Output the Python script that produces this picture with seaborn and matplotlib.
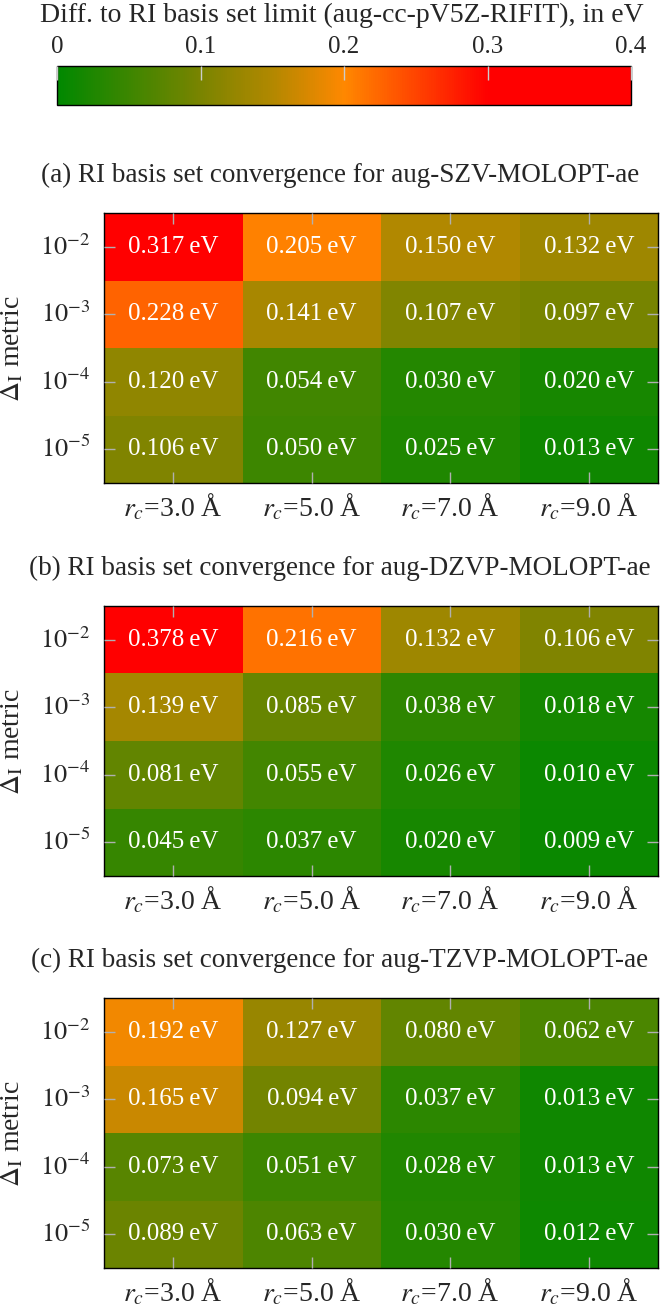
import numpy as np
import pandas as pd
import matplotlib
matplotlib.use("Agg")
import matplotlib.pyplot as plt
import seaborn as sns
from matplotlib.colors import LinearSegmentedColormap, Normalize
from matplotlib.cm import ScalarMappable

sns.set_theme(style="white")
plt.rcParams['font.family'] = ['Liberation Serif', 'DejaVu Serif']
plt.rcParams['mathtext.fontset'] = 'stix'

# ---- data ----
cutoffs = ["$r_c$=3.0 Å", "$r_c$=5.0 Å", "$r_c$=7.0 Å", "$r_c$=9.0 Å"]
metrics = ["$10^{-2}$", "$10^{-3}$", "$10^{-4}$", "$10^{-5}$"]

szv = [[0.317, 0.205, 0.150, 0.132],
       [0.228, 0.141, 0.107, 0.097],
       [0.120, 0.054, 0.030, 0.020],
       [0.106, 0.050, 0.025, 0.013]]
dzvp = [[0.378, 0.216, 0.132, 0.106],
        [0.139, 0.085, 0.038, 0.018],
        [0.081, 0.055, 0.026, 0.010],
        [0.045, 0.037, 0.020, 0.009]]
tzvp = [[0.192, 0.127, 0.080, 0.062],
        [0.165, 0.094, 0.037, 0.013],
        [0.073, 0.051, 0.028, 0.013],
        [0.089, 0.063, 0.030, 0.012]]

titles = ["(a) RI basis set convergence for aug-SZV-MOLOPT-ae",
          "(b) RI basis set convergence for aug-DZVP-MOLOPT-ae",
          "(c) RI basis set convergence for aug-TZVP-MOLOPT-ae"]
cbar_label = "Diff. to RI basis set limit (aug-cc-pV5Z-RIFIT), in eV"
cbar_ticks = [0, 0.1, 0.2, 0.3, 0.4]
cbar_ticklabels = ["0", "0.1", "0.2", "0.3", "0.4"]

# ---- style ----
W, H = 661, 1313
fig = plt.figure(figsize=(W / 100, H / 100), dpi=100)
cmap = LinearSegmentedColormap.from_list(
    "gor", [(0.0, (0 / 255, 136 / 255, 0)),
            (0.25, (122 / 255, 132 / 255, 0)),
            (0.375, (178 / 255, 136 / 255, 0)),
            (0.5, (1.0, 136 / 255, 0)),
            (0.75, (1.0, 0, 0)),
            (1.0, (1.0, 0, 0))])
norm = Normalize(vmin=0, vmax=0.4)
FS_ANN = 18

def px_axes(x0, y0, x1, y1):
    return fig.add_axes([x0 / W, 1 - y1 / H, (x1 - x0) / W, (y1 - y0) / H])

# colorbar
cax = px_axes(57, 66, 631, 105)
cb = fig.colorbar(ScalarMappable(norm=norm, cmap=cmap), cax=cax, orientation="horizontal")
cax.set_axisbelow(False)
cax.xaxis.set_ticks_position("top")
cax.xaxis.set_label_position("top")
cb.set_ticks(cbar_ticks)
cb.set_ticklabels(cbar_ticklabels)
cax.tick_params(axis="x", direction="in", length=10, width=1, color="#cccccc",
                labelsize=18, pad=6, top=True)
cb.outline.set_linewidth(1.0)
cb.outline.set_edgecolor("black")
fig.text(342 / W, 1 - 15 / H, cbar_label, ha="center", va="center", fontsize=20)

panels = [(szv, 213), (dzvp, 606), (tzvp, 998)]
for (data, top), title in zip(panels, titles):
    ax = px_axes(104, top, 658, top + 270)
    df = pd.DataFrame(data, index=metrics, columns=cutoffs)
    annot = df.map(lambda v: f"{v:.3f}\u2009eV")
    sns.heatmap(df, ax=ax, cmap=cmap, vmin=0, vmax=0.4, cbar=False,
                annot=annot, fmt="", annot_kws={"color": "white", "fontsize": FS_ANN})
    ax.set_axisbelow(False)
    for sp in ax.spines.values():
        sp.set_visible(True)
        sp.set_linewidth(1.0)
        sp.set_color("black")
    ax.tick_params(axis="both", which="both", direction="in", length=8, width=1,
                   color="#b0b0b0", top=True, right=True, bottom=True, left=True,
                   labeltop=False, labelright=False)
    ax.tick_params(axis="x", pad=6, labelsize=20)
    ax.tick_params(axis="y", pad=10, labelsize=19)
    ax.set_yticklabels(metrics, rotation=0)
    ax.set_xticklabels(cutoffs, rotation=0)
    ax.set_ylabel(r"$\Delta_{\mathrm{I}}$ metric", fontsize=20)
    ax.yaxis.set_label_coords(-(104 - 25) / 554, 0.5)
    ax.set_xlabel("")
    fig.text(340 / W, 1 - (top - 38) / H, title, ha="center", va="center", fontsize=19.5)

fig.savefig("out.png", dpi=100)
